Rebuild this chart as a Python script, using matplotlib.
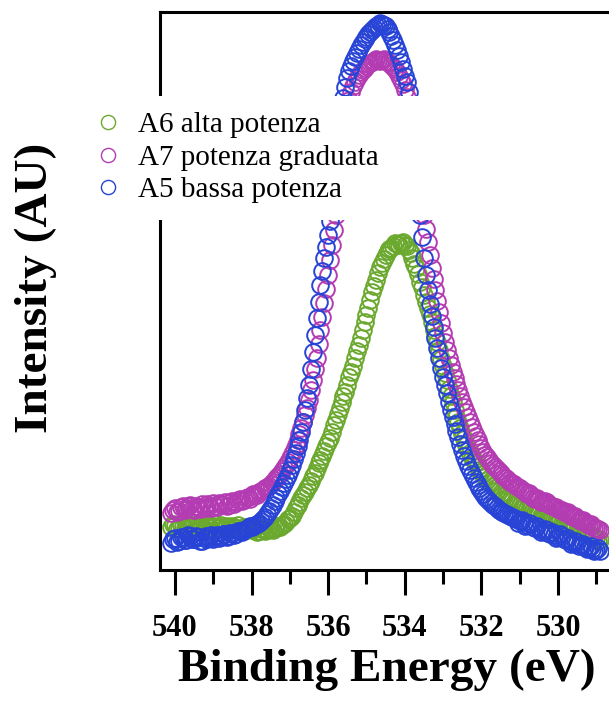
import numpy as np
import matplotlib.pyplot as plt
from matplotlib.patches import Rectangle

plt.rcParams['font.family'] = ['Liberation Serif', 'DejaVu Serif']

# --- O 1s spectra, 0.05 eV step from 540.1 down to 528.9 eV ---
binding_energy = np.round(np.linspace(540.1, 528.9, 225), 2)

# A6 alta potenza
intensity_a6 = [
    43, 46, 45, 41, 42, 45, 44, 42, 46, 44, 43, 47, 45, 43, 42, 44, 44, 41, 46, 44,
    43, 42, 44, 46, 42, 43, 45, 41, 43, 44, 41, 42, 44, 43, 42, 45, 40, 41, 43, 40,
    41, 43, 40, 41, 42, 38, 39, 42, 41, 39, 40, 42, 41, 40, 42, 44, 43, 43, 45, 46,
    48, 51, 52, 54, 58, 62, 65, 68, 72, 75, 78, 82, 85, 89, 94, 97, 102, 107, 110, 114,
    119, 124, 128, 132, 138, 145, 150, 156, 162, 168, 174, 178, 185, 193, 198, 204, 212, 219, 225, 232,
    240, 248, 255, 262, 270, 278, 284, 290, 297, 303, 307, 311, 315, 319, 321, 322, 324, 327, 326, 325,
    327, 328, 325, 324, 320, 317, 312, 306, 302, 296, 288, 283, 275, 268, 262, 256, 248, 240, 234, 228,
    220, 211, 204, 197, 190, 181, 174, 168, 160, 153, 148, 142, 136, 131, 125, 120, 117, 112, 110, 108,
    104, 100, 98, 96, 93, 90, 88, 87, 84, 82, 80, 79, 77, 75, 74, 72, 71, 70, 69, 66,
    67, 67, 65, 62, 63, 64, 61, 60, 62, 59, 58, 59, 57, 54, 55, 56, 54, 51, 51, 53,
    52, 50, 49, 50, 47, 45, 46, 47, 44, 42, 43, 43, 40, 41, 39, 37, 37, 38, 36, 34,
    33, 34, 32, 29, 30,
]

# A7 potenza graduata
intensity_a7 = [
    57, 60, 62, 58, 59, 63, 64, 60, 61, 64, 65, 61, 60, 64, 63, 61, 66, 63, 62, 66,
    64, 62, 67, 64, 63, 67, 66, 65, 68, 64, 65, 68, 69, 66, 68, 70, 71, 69, 70, 72,
    73, 71, 74, 76, 76, 75, 78, 79, 80, 82, 83, 84, 86, 88, 90, 92, 94, 96, 99, 102,
    105, 108, 112, 116, 120, 125, 130, 136, 142, 148, 155, 162, 170, 180, 190, 201, 212, 226, 240, 253,
    267, 281, 295, 310, 325, 340, 355, 374, 392, 411, 430, 446, 460, 470, 478, 484, 488, 492, 495, 498,
    500, 502, 504, 506, 507, 508, 509, 511, 510, 509, 510, 511, 509, 508, 507, 505, 503, 501, 498, 494,
    490, 486, 480, 473, 465, 456, 445, 432, 418, 402, 385, 370, 355, 341, 328, 315, 302, 291, 280, 269,
    258, 247, 237, 228, 220, 212, 205, 198, 192, 186, 180, 174, 168, 163, 158, 153, 148, 143, 138, 134,
    130, 126, 122, 118, 115, 113, 110, 107, 105, 103, 101, 99, 97, 95, 93, 92, 90, 88, 87, 86,
    84, 83, 82, 80, 79, 78, 76, 77, 75, 72, 71, 72, 70, 68, 68, 69, 68, 66, 65, 64,
    63, 63, 61, 60, 60, 58, 57, 58, 56, 54, 53, 54, 52, 50, 49, 50, 48, 46, 45, 46,
    44, 42, 42, 41, 40,
]

# A5 bassa potenza
intensity_a5 = [
    27, 31, 32, 28, 29, 33, 33, 30, 30, 35, 34, 31, 31, 34, 33, 29, 29, 32, 34, 31,
    32, 35, 31, 33, 35, 32, 33, 36, 36, 33, 34, 37, 37, 35, 36, 39, 39, 38, 40, 41,
    42, 44, 43, 44, 45, 46, 47, 49, 51, 53, 56, 59, 62, 65, 69, 72, 76, 79, 83, 87,
    91, 95, 100, 105, 111, 117, 124, 130, 138, 148, 160, 172, 185, 201, 218, 235, 252, 268, 285, 299,
    312, 323, 335, 349, 365, 385, 405, 424, 442, 458, 472, 483, 492, 499, 504, 509, 513, 517, 521, 525,
    528, 531, 533, 536, 538, 540, 542, 544, 545, 547, 546, 545, 544, 541, 538, 534, 530, 525, 520, 514,
    508, 501, 494, 488, 478, 461, 442, 420, 398, 377, 355, 333, 312, 295, 280, 266, 254, 243, 232, 222,
    212, 202, 193, 185, 177, 168, 160, 153, 146, 139, 133, 126, 120, 114, 109, 104, 100, 96, 92, 88,
    85, 82, 79, 76, 73, 71, 69, 67, 65, 64, 62, 60, 59, 58, 57, 56, 55, 54, 53, 52,
    51, 47, 49, 50, 48, 44, 45, 47, 46, 43, 42, 44, 41, 38, 39, 41, 40, 37, 36, 38,
    35, 32, 33, 36, 34, 31, 30, 32, 29, 26, 27, 29, 28, 24, 25, 26, 23, 21, 22, 24,
    21, 19, 20, 22, 19,
]

sample_labels = ['A6 alta potenza', 'A7 potenza graduata', 'A5 bassa potenza']
sample_colors = ['#6aa82e', '#b43cb2', '#2744d6']

major_ticks = [540, 538, 536, 534, 532, 530]
minor_ticks = [539, 537, 535, 533, 531, 529]
tick_labels = ['540', '538', '536', '534', '532', '530']

# --- Plot ---
fig = plt.figure(figsize=(6.09, 7.01), dpi=100)
ax = fig.add_axes([0.2627, 0.1869, 0.7882, 0.796])

for values, label, color in zip([intensity_a6, intensity_a7, intensity_a5],
                                sample_labels, sample_colors):
    ax.plot(binding_energy, values, 'o', mfc='none', mec=color,
            ms=12, mew=1.4, label=label)

ax.set_xlim(540.39, 527.86)
ax.set_ylim(0, 558)

ax.set_xticks(major_ticks)
ax.set_xticklabels(tick_labels, fontsize=22, fontweight='bold')
ax.set_xticks(minor_ticks, minor=True)
ax.set_yticks([])
ax.tick_params(axis='x', which='major', direction='out', length=18, width=2.2, pad=14)
ax.tick_params(axis='x', which='minor', direction='out', length=10, width=2.2)

for side in ['left', 'top', 'bottom']:
    ax.spines[side].set_linewidth(2.2)
ax.spines['right'].set_visible(False)

ax.set_xlabel('Binding Energy (eV)', fontsize=34, fontweight='bold')
ax.xaxis.set_label_coords(0.472, -0.14)
ax.set_ylabel('Intensity (AU)', fontsize=34, fontweight='bold')
ax.yaxis.set_label_coords(-0.215, 0.505)

# white panel behind the legend, laid over the plot
fig.add_artist(Rectangle((85 / 609, 1 - 220 / 701), 355 / 609, 124 / 701,
                         transform=fig.transFigure, facecolor='white',
                         edgecolor='none', zorder=3))

leg = fig.legend(loc='upper left', bbox_to_anchor=(85 / 609, 1 - 96 / 701),
                 frameon=False, fontsize=21, labelspacing=0.2, borderpad=0.55,
                 handlelength=0.5, handletextpad=0.75, markerscale=0.85,
                 borderaxespad=0)
leg.set_zorder(5)
for h in leg.legend_handles:
    h.set_markeredgewidth(1.0)

plt.savefig('out.png', dpi=100)
